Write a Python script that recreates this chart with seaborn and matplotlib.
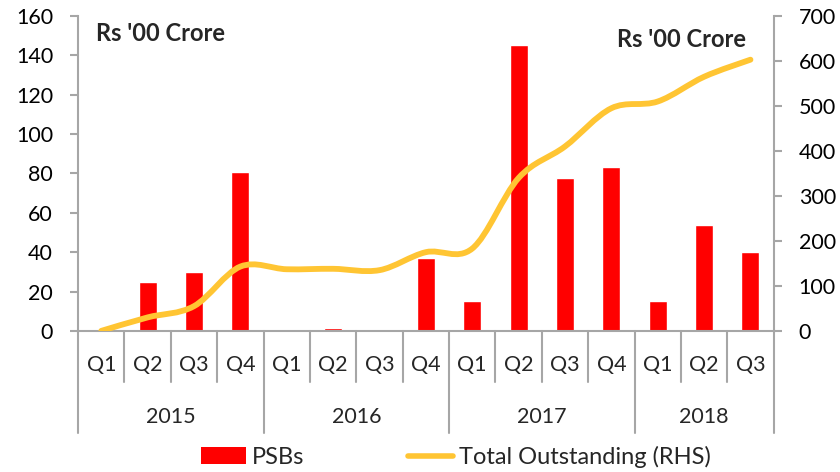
import numpy as np
import pandas as pd
import seaborn as sns
import matplotlib
matplotlib.use("Agg")
import matplotlib.pyplot as plt
from matplotlib.path import Path
from matplotlib.patches import PathPatch, Patch
from matplotlib.lines import Line2D

# data
years = ["2015", "2016", "2017", "2018"]
quarters = ["Q1", "Q2", "Q3", "Q4", "Q1", "Q2", "Q3", "Q4",
            "Q1", "Q2", "Q3", "Q4", "Q1", "Q2", "Q3"]
year_of = ["2015"] * 4 + ["2016"] * 4 + ["2017"] * 4 + ["2018"] * 3
psbs = [0, 25, 30, 80.5, 0, 1.5, 0, 37, 15, 145.5, 77.5, 83.5, 15, 54, 40]
total_outstanding = [0, 30, 55, 143, 137, 138, 135, 175, 183, 340, 410, 495, 510, 565, 603]

RED = "#ff0000"
GOLD = "#ffc533"
GREY = "#a6a6a6"

sns.set_style("white")
plt.rcParams["font.family"] = ["Lato", "DejaVu Sans"]

df = pd.DataFrame({"period": [f"{y} {q}" for y, q in zip(year_of, quarters)],
                   "psbs": psbs, "total": total_outstanding})

fig = plt.figure(figsize=(8.4, 4.72), dpi=100)
ax = fig.add_axes([0.093, 0.299, 0.828, 0.667])

sns.barplot(data=df, x="period", y="psbs", color=RED, saturation=1,
            width=0.39, ax=ax)
ax.set_xlim(-0.5, len(df) - 0.5)
ax.set_ylim(0, 160)
ax.set_yticks(range(0, 161, 20))
ax.set_xlabel("")
ax.set_ylabel("")
ax.set_xticks([])

ax2 = ax.twinx()
ax2.set_ylim(0, 700)
ax2.set_yticks(range(0, 701, 100))

# smoothed line (Excel-style), control points from the data
pts = np.column_stack([np.arange(len(df)), df["total"].to_numpy(float)])
verts = [tuple(pts[0])]
codes = [Path.MOVETO]
n = len(pts)
for i in range(n - 1):
    p0 = pts[i - 1] if i > 0 else pts[i]
    p1, p2 = pts[i], pts[i + 1]
    p3 = pts[i + 2] if i + 2 < n else pts[i + 1]
    verts += [tuple(p1 + (p2 - p0) / 6), tuple(p2 - (p3 - p1) / 6), tuple(p2)]
    codes += [Path.CURVE4] * 3
ax2.add_patch(PathPatch(Path(verts, codes), facecolor="none", edgecolor=GOLD,
                        lw=4.2, capstyle="round", joinstyle="round"))

for a in (ax, ax2):
    a.spines["top"].set_visible(False)
    for s in a.spines.values():
        s.set_color(GREY)
        s.set_linewidth(1.5)
    a.tick_params(axis="y", direction="out", length=6, width=1.5, color=GREY,
                  labelsize=15.5, pad=12, labelcolor="black")
ax.spines["right"].set_visible(False)
ax2.spines["left"].set_visible(False)
ax2.spines["bottom"].set_visible(False)

# category axis: quarter separators, year separators, labels
xt = ax.get_xaxis_transform()
for i in range(len(df) + 1):
    b = i - 0.5
    is_year = b in (-0.5, 3.5, 7.5, 11.5, len(df) - 0.5)
    ax.plot([b, b], [0, -0.324 if is_year else -0.162], color=GREY, lw=1.5,
            transform=xt, clip_on=False)
for i, q in enumerate(quarters):
    ax.text(i, -0.108, q, transform=xt, ha="center", va="center", fontsize=15.5)
starts = [0, 4, 8, 12]
ends = [3, 7, 11, 14]
for y, s, e in zip(years, starts, ends):
    ax.text((s + e) / 2, -0.273, y, transform=xt, ha="center", va="center",
            fontsize=15.5)

ax.text(0.025, 0.945, "Rs '00 Crore", transform=ax.transAxes, fontsize=17,
        fontweight="bold", ha="left", va="center")
ax.text(0.96, 0.925, "Rs '00 Crore", transform=ax.transAxes,
        fontsize=17, fontweight="bold", ha="right", va="center")

handles = [Patch(facecolor=RED, edgecolor="none"),
           Line2D([], [], color=GOLD, lw=4, solid_capstyle="round")]
fig.legend(handles, ["PSBs", "Total Outstanding (RHS)"], loc="center",
           bbox_to_anchor=(0.543, 0.032), ncol=2, frameon=False, fontsize=17,
           handlelength=1.9, handletextpad=0.25, columnspacing=4.4)

fig.savefig("out.png", dpi=100)
